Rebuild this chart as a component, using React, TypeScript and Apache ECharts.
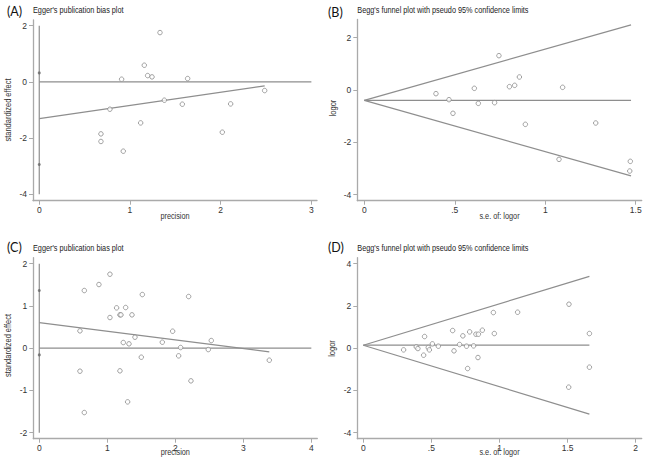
import React, { useEffect, useRef } from "react";
import * as echarts from "echarts";

// ---------- Data ----------
// (A) Egger's plot: precision vs standardized effect
const eggerAPrecision = [0.908, 1.158, 1.195, 1.243, 1.331, 1.636, 1.379, 0.779, 1.577, 2.11, 2.485, 0.68, 0.68, 1.118, 0.926, 2.018];
const eggerAEffect = [0.095, 0.593, 0.225, 0.178, 1.755, 0.119, -0.652, -0.972, -0.794, -0.783, -0.308, -1.85, -2.12, -1.459, -2.466, -1.79];
const eggerAInterceptCI = [0.32, -2.94];
const eggerAFit = [[0, -1.304], [2.485, -0.142]];
const eggerAVertical = [[0, 2], [0, -4]];
const eggerAZero = [[0, 0], [3, 0]];
const eggerAXTicks = [0, 1, 2, 3];
const eggerAYTicks = [-4, -2, 0, 2];

// (B) Begg's funnel plot: s.e. of logor vs logor
const beggBSe = [0.396, 0.468, 0.49, 0.608, 0.63, 0.72, 0.744, 0.802, 0.831, 0.857, 0.89, 1.096, 1.279, 1.076, 1.47, 1.467];
const beggBLogor = [-0.14, -0.37, -0.89, 0.064, -0.51, -0.484, 1.312, 0.127, 0.178, 0.497, -1.312, 0.102, -1.261, -2.65, -2.726, -3.096];
const beggBCenter = [[0, -0.395], [1.474, -0.395]];
const beggBUpper = [[0, -0.395], [1.474, 2.49]];
const beggBLower = [[0, -0.395], [1.474, -3.28]];
const beggBXTicks = [0, 0.5, 1, 1.5];
const beggBYTicks = [-4, -2, 0, 2];

// (C) Egger's plot
const eggerCPrecision = [0.598, 0.598, 0.662, 0.662, 0.877, 1.039, 1.039, 1.137, 1.186, 1.201, 1.186, 1.235, 1.27, 1.319, 1.299, 1.363, 1.407, 1.515, 1.5, 1.809, 1.961, 2.049, 2.078, 2.196, 2.23, 2.485, 2.529, 3.382];
const eggerCEffect = [0.41, -0.544, 1.365, -1.523, 1.507, 1.751, 0.726, 0.955, 0.789, 0.789, -0.536, 0.134, 0.963, 0.103, -1.27, 0.789, 0.26, 1.27, -0.213, 0.142, 0.402, -0.181, 0.016, 1.223, -0.773, -0.032, 0.181, -0.284];
const eggerCInterceptCI = [1.365, -0.158];
const eggerCFit = [[0, 0.607], [3.382, -0.087]];
const eggerCVertical = [[0, 2], [0, -2]];
const eggerCZero = [[0, 0], [4, 0]];
const eggerCXTicks = [0, 1, 2, 3, 4];
const eggerCYTicks = [-2, -1, 0, 1, 2];

// (D) Begg's funnel plot
const beggDSe = [0.296, 0.389, 0.401, 0.443, 0.45, 0.477, 0.485, 0.507, 0.551, 0.656, 0.666, 0.707, 0.731, 0.758, 0.766, 0.781, 0.81, 0.827, 0.845, 0.842, 0.874, 0.955, 0.962, 1.133, 1.51, 1.508, 1.66, 1.66];
const beggDLogor = [-0.079, 0.063, -0.016, -0.331, 0.552, 0.032, -0.079, 0.205, 0.095, 0.836, -0.126, 0.174, 0.584, 0.095, -0.962, 0.773, 0.11, 0.662, 0.662, -0.442, 0.852, 1.688, 0.694, 1.703, 2.082, -1.845, 0.694, -0.899];
const beggDCenter = [[0, 0.142], [1.66, 0.142]];
const beggDUpper = [[0, 0.142], [1.66, 3.4]];
const beggDLower = [[0, 0.142], [1.66, -3.12]];
const beggDXTicks = [0, 0.5, 1, 1.5, 2];
const beggDYTicks = [-4, -2, 0, 2, 4];

const panelLetters = ["(A)", "(B)", "(C)", "(D)"];
const panelTitles = [
  "Egger's publication bias plot",
  "Begg's funnel plot with pseudo 95% confidence limits",
  "Egger's publication bias plot",
  "Begg's funnel plot with pseudo 95% confidence limits",
];
const xNames = ["precision", "s.e. of: logor", "precision", "s.e. of: logor"];
const yNames = ["standardized effect", "logor", "standardized effect", "logor"];

// ---------- Layout ----------
const layouts = [
  { left: 33, top: 20, right: 317, bottom: 200.7, xMin: -0.069, xMax: 3.062, yMin: -4.228, yMax: 2.203 },
  { left: 357.3, top: 19.5, right: 641.7, bottom: 200.7, xMin: -0.0387, xMax: 1.533, yMin: -4.23, yMax: 2.694 },
  { left: 33.3, top: 257.7, right: 317.3, bottom: 438.7, xMin: -0.088, xMax: 4.088, yMin: -2.142, yMax: 2.142 },
  { left: 357.3, top: 257.7, right: 641.7, bottom: 438.7, xMin: -0.044, xMax: 2.044, yMin: -4.284, yMax: 4.284 },
];
const letterPos = [[7, 11], [328, 12.5], [7, 247], [328, 247]];
const titlePos = [[33, 10.5], [357.3, 10.5], [33, 248], [357.3, 248]];
const xNamePos = [[175, 216.7], [499.5, 216.7], [175.3, 452.7], [499.5, 452.7]];
const yNamePos = [[8.5, 110], [333.3, 108], [8.5, 345.5], [332.5, 348.5]];

const FONT = '"Liberation Sans", Arial, sans-serif';
const AXIS_GRAY = "#aaaaaa";
const LINE_GRAY = "#8e8e8e";
const MARK_GRAY = "#8a8a8a";

const fmt = (v: number) => {
  const s = String(v);
  if (s.startsWith("0.")) return s.slice(1);
  if (s.startsWith("-0.")) return "-" + s.slice(2);
  return s;
};

const zip = (xs: number[], ys: number[]) => xs.map((x, i) => [x, ys[i]]);

export default function App() {
  const ref = useRef<HTMLDivElement>(null);
  useEffect(() => {
    const chart = echarts.init(ref.current!, null, { renderer: "svg", width: 650, height: 465 });
    const xTicks = [eggerAXTicks, beggBXTicks, eggerCXTicks, beggDXTicks];
    const yTicks = [eggerAYTicks, beggBYTicks, eggerCYTicks, beggDYTicks];

    const grids = layouts.map((l) => ({
      left: l.left,
      top: l.top,
      width: l.right - l.left,
      height: l.bottom - l.top,
      containLabel: false,
    }));
    const xAxes = layouts.map((l, i) => ({
      type: "value",
      gridIndex: i,
      min: l.xMin,
      max: l.xMax,
      axisLine: { show: true, onZero: false, lineStyle: { color: AXIS_GRAY, width: 1.3 } },
      axisTick: { show: true, customValues: xTicks[i], length: 4, lineStyle: { color: AXIS_GRAY, width: 1 } },
      axisLabel: {
        customValues: xTicks[i],
        formatter: fmt,
        fontFamily: FONT,
        fontSize: 8.5,
        color: "#333",
        margin: 5,
      },
      splitLine: { show: false },
    }));
    const yAxes = layouts.map((l, i) => ({
      type: "value",
      gridIndex: i,
      min: l.yMin,
      max: l.yMax,
      axisLine: { show: true, onZero: false, lineStyle: { color: AXIS_GRAY, width: 1.3 } },
      axisTick: { show: true, customValues: yTicks[i], length: 4, lineStyle: { color: AXIS_GRAY, width: 1 } },
      axisLabel: {
        customValues: yTicks[i],
        formatter: fmt,
        fontFamily: FONT,
        fontSize: 8.5,
        color: "#333",
        margin: 6,
      },
      splitLine: { show: false },
    }));

    const lineSeries = (data: number[][], idx: number) => ({
      type: "line",
      xAxisIndex: idx,
      yAxisIndex: idx,
      data,
      symbol: "none",
      silent: true,
      lineStyle: { color: LINE_GRAY, width: 1.2 },
      z: 2,
    });
    const scatterSeries = (data: number[][], idx: number) => ({
      type: "scatter",
      xAxisIndex: idx,
      yAxisIndex: idx,
      data,
      symbol: "circle",
      symbolSize: 4.5,
      itemStyle: { color: "#ffffff", borderColor: MARK_GRAY, borderWidth: 1 },
      z: 3,
    });
    const ciSeries = (vals: number[], idx: number) => ({
      type: "scatter",
      xAxisIndex: idx,
      yAxisIndex: idx,
      data: vals.map((v) => [0, v]),
      symbol: "circle",
      symbolSize: 3,
      itemStyle: { color: "#666666" },
      z: 4,
    });

    const series: any[] = [
      lineSeries(eggerAVertical, 0),
      lineSeries(eggerAZero, 0),
      lineSeries(eggerAFit, 0),
      scatterSeries(zip(eggerAPrecision, eggerAEffect), 0),
      ciSeries(eggerAInterceptCI, 0),
      lineSeries(beggBCenter, 1),
      lineSeries(beggBUpper, 1),
      lineSeries(beggBLower, 1),
      scatterSeries(zip(beggBSe, beggBLogor), 1),
      lineSeries(eggerCVertical, 2),
      lineSeries(eggerCZero, 2),
      lineSeries(eggerCFit, 2),
      scatterSeries(zip(eggerCPrecision, eggerCEffect), 2),
      ciSeries(eggerCInterceptCI, 2),
      lineSeries(beggDCenter, 3),
      lineSeries(beggDUpper, 3),
      lineSeries(beggDLower, 3),
      scatterSeries(zip(beggDSe, beggDLogor), 3),
    ];

    const txt = (text: string, x: number, y: number, opts: any = {}) => ({
      type: "text",
      x,
      y,
      rotation: opts.rotation || 0,
      scaleX: opts.scaleX || 1,
      silent: true,
      style: {
        text,
        x: 0,
        y: 0,
        fill: opts.color || "#222",
        fontFamily: opts.fontFamily || FONT,
        fontSize: opts.fontSize || 8.5,
        align: opts.align || "left",
        textAlign: opts.align || "left",
        verticalAlign: "middle",
        textVerticalAlign: "middle",
      },
    });

    const graphic: any[] = [];
    for (let i = 0; i < 4; i++) {
      graphic.push(txt(panelLetters[i], letterPos[i][0], letterPos[i][1], { fontSize: 12.5, fontFamily: "Lato, 'Open Sans', sans-serif", color: "#111" }));
      graphic.push(txt(panelTitles[i], titlePos[i][0], titlePos[i][1], { scaleX: 0.86, color: "#222" }));
      graphic.push(txt(xNames[i], xNamePos[i][0], xNamePos[i][1], { scaleX: 0.86, align: "center", color: "#333" }));
      graphic.push(txt(yNames[i], yNamePos[i][0], yNamePos[i][1], { scaleX: 0.88, align: "center", rotation: Math.PI / 2, color: "#333" }));
    }

    chart.setOption({
      animation: false,
      backgroundColor: "#ffffff",
      grid: grids,
      xAxis: xAxes,
      yAxis: yAxes,
      series,
      graphic,
    });
    return () => chart.dispose();
  }, []);
  return (
    <div
      ref={ref}
      style={{ position: "fixed", left: 0, top: 0, width: 650, height: 465, background: "#fff" }}
    />
  );
}
